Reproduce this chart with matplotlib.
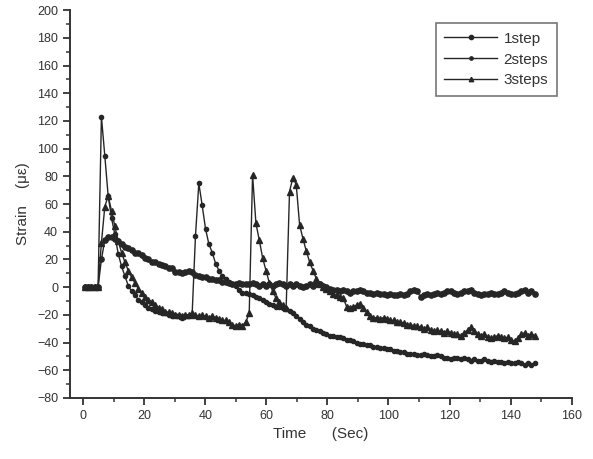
import numpy as np
import matplotlib
matplotlib.use('Agg')
import matplotlib.pyplot as plt
from matplotlib.ticker import MultipleLocator

plt.rcParams['font.family'] = ['Liberation Sans', 'DejaVu Sans']

# sampling grid of the recorder (sec)
t0 = 0.5
dt = 1.1

strain_1step = [
    0, 0, 0, 0, 0, 20, 34, 36, 36, 35,
    33, 31, 29, 28, 27, 25, 25, 23, 21, 20,
    18, 18, 17, 16, 15, 14, 14, 11, 11, 10,
    11, 12, 11, 9, 8, 7, 7, 6, 6, 5,
    5, 4, 4, 3, 2, 2, 3, 2, 2, 2,
    3, 2, 1, 2, 1, 2, 1, 2, 3, 2,
    1, 2, 1, 2, 1, 0, 1, 2, 1, 2,
    2, 1, 0, -1, -2, -2, -3, -2, -3, -4,
    -3, -3, -2, -3, -4, -4, -5, -4, -5, -5,
    -6, -5, -6, -6, -5, -6, -5, -3, -2, -3,
    -7, -6, -5, -6, -5, -4, -5, -4, -3, -3,
    -4, -5, -4, -3, -3, -2, -4, -5, -6, -5,
    -5, -4, -5, -5, -4, -3, -4, -5, -5, -4,
    -3, -2, -4, -3, -5,
]

strain_2steps = [
    0, 0, 0, 0, 0, 123, 95, 66, 50, 38,
    24, 15, 8, 1, -3, -6, -9, -11, -13, -15,
    -16, -17, -18, -19, -19, -20, -21, -20, -21, -22,
    -21, -21, -20, 37, 75, 59, 42, 31, 25, 17,
    12, 8, 6, 4, 2, 1, -2, -4, -4, -5,
    -6, -7, -8, -9, -11, -12, -13, -14, -14, -15,
    -16, -17, -19, -21, -23, -25, -27, -28, -30, -31,
    -32, -33, -34, -35, -35, -36, -36, -37, -38, -38,
    -39, -40, -41, -41, -42, -42, -43, -43, -44, -44,
    -45, -45, -46, -46, -47, -47, -48, -48, -48, -49,
    -49, -48, -49, -50, -50, -49, -50, -51, -51, -52,
    -51, -51, -52, -51, -52, -53, -52, -53, -53, -52,
    -53, -54, -53, -54, -54, -55, -54, -55, -55, -54,
    -55, -56, -55, -56, -55,
]

strain_3steps = [
    0, 0, 0, 0, 0, 32, 58, 66, 55, 44,
    33, 25, 18, 12, 7, 3, -1, -4, -7, -9,
    -11, -13, -15, -16, -18, -18, -19, -20, -20, -21,
    -20, -20, -19, -20, -21, -20, -21, -22, -21, -22,
    -23, -24, -24, -25, -27, -28, -27, -28, -25, -19,
    81, 46, 34, 21, 12, 3, -3, -8, -11, -13,
    -15, 69, 79, 74, 45, 35, 26, 18, 12, 6,
    2, 0, -1, -3, -5, -6, -7, -8, -14, -15,
    -14, -13, -12, -15, -18, -21, -22, -22, -23, -22,
    -23, -24, -24, -25, -25, -26, -27, -27, -28, -28,
    -29, -30, -29, -31, -32, -31, -32, -33, -32, -33,
    -34, -34, -35, -33, -31, -29, -32, -34, -35, -34,
    -36, -37, -36, -35, -36, -37, -36, -38, -39, -37,
    -34, -33, -35, -34, -35,
]

time = t0 + dt * np.arange(len(strain_1step))

fig = plt.figure(figsize=(5.93, 4.59), dpi=100)
ax = fig.add_axes([0.118, 0.133, 0.846, 0.845])

c = '#262626'
ax.plot(time, strain_1step, color=c, lw=1.0, marker='o', ms=3.8, label='1step')
ax.plot(time, strain_2steps, color=c, lw=1.0, marker='o', ms=3.0, label='2steps')
ax.plot(time, strain_3steps, color=c, lw=1.0, marker='^', ms=4.0, label='3steps')

ax.set_xlim(-4.3, 160)
ax.set_ylim(-80, 200)
ax.xaxis.set_major_locator(MultipleLocator(20))
ax.xaxis.set_minor_locator(MultipleLocator(10))
ax.yaxis.set_major_locator(MultipleLocator(20))
ax.yaxis.set_minor_locator(MultipleLocator(10))

for s in ['top', 'right']:
    ax.spines[s].set_visible(False)
for s in ['left', 'bottom']:
    ax.spines[s].set_linewidth(1.4)
    ax.spines[s].set_color('#333333')

ax.tick_params(which='major', direction='out', length=5, width=1.3,
               labelsize=9, colors='#333333')
ax.tick_params(which='minor', direction='out', length=3, width=1.1,
               colors='#333333')

ax.set_xlabel('Time      (Sec)', fontsize=11, color='#333333', labelpad=4)
ax.set_ylabel('Strain    (\u03bc\u03b5)', fontsize=11, color='#333333', labelpad=5)

leg = ax.legend(loc='upper right', bbox_to_anchor=(0.970, 0.966),
                borderaxespad=0, fancybox=False, frameon=True,
                fontsize=11, handlelength=3.5, handletextpad=0.4,
                labelspacing=0.45, borderpad=0.55, markerscale=0.8)
leg.get_frame().set_edgecolor('#555555')
leg.get_frame().set_linewidth(1.2)
for txt in leg.get_texts():
    txt.set_color('#333333')

fig.savefig('out.png', dpi=100)
